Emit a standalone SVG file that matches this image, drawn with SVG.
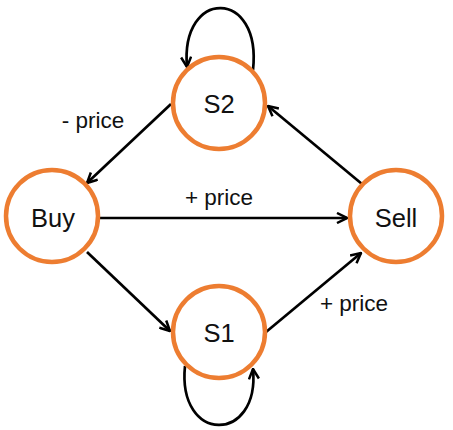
<svg xmlns="http://www.w3.org/2000/svg" width="453" height="430" viewBox="0 0 453 430">
<style>
.node circle{fill:#fff;stroke:#ED7D31;stroke-width:4.5}
.node text,.lbl{font-family:"Liberation Sans",Arial,sans-serif;fill:#111;text-anchor:middle}
.node text{font-size:25.5px}
.lbl{font-size:22.5px}
.edge{fill:none;stroke:#000;stroke-width:2.7;marker-end:url(#ah)}
</style>
<defs>
<marker id="ah" viewBox="0 0 12 12" markerWidth="12" markerHeight="12" refX="11" refY="6" orient="auto" markerUnits="userSpaceOnUse">
<path d="M1,1 L11,6 L1,11" fill="none" stroke="#000" stroke-width="2.5" stroke-linejoin="miter"/>
</marker>
</defs>
<rect width="453" height="430" fill="#fff"/>
<g id="connectors">
<path class="edge" d="M171,104 L87,183"/>
<path class="edge" d="M362,184 L268,106"/>
<path class="edge" d="M100,218 L347,218"/>
<path class="edge" d="M87,252 L170,331"/>
<path class="edge" d="M266,332 L361,253"/>
<path class="edge" d="M253,70 C262,-12 180,-12 187,67"/>
<path class="edge" d="M185,366 C177,444 260,444 253,369"/>
</g>
<g id="S2" class="node"><circle cx="219" cy="103" r="46"/><text x="219" y="113">S2</text></g>
<g id="Buy" class="node"><circle cx="52" cy="216" r="46"/><text x="53" y="227">Buy</text></g>
<g id="Sell" class="node"><circle cx="396" cy="216" r="46"/><text x="396" y="227">Sell</text></g>
<g id="S1" class="node"><circle cx="219" cy="332" r="46"/><text x="219" y="342">S1</text></g>
<text class="lbl" x="219" y="205">+ price</text>
<text class="lbl" x="93" y="128">- price</text>
<text class="lbl" x="354" y="311">+ price</text>
</svg>
